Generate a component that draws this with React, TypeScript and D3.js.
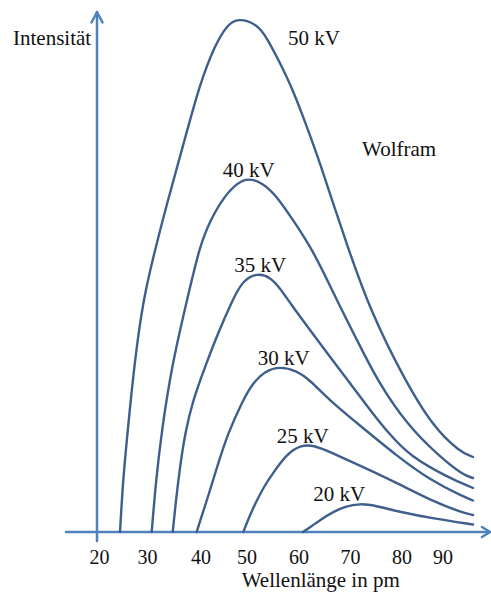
import React from "react";
import * as d3 from "d3";

const WIDTH = 491;
const HEIGHT = 595;

// Wavelength ticks along the horizontal axis (pm)
const wavelengthTicks = [20, 30, 40, 50, 60, 70, 80, 90];

// Continuous X-ray spectra of a tungsten anode: [wavelength in pm, relative intensity]
const spectrum50kV: [number, number][] = [
  [24.79, 0], [25.42, 10.4], [26.35, 19.8], [27.71, 33], [29.58, 46.4], [31.87, 56.4],
  [33.93, 65], [37.1, 77.2], [40.33, 89.8], [43.59, 97.4], [46.2, 101.4], [48.59, 102.8],
  [52.4, 101.6], [54.33, 98.8], [56.83, 93.8], [59.33, 88.4], [62.04, 81], [64.56, 73.8],
  [67.09, 65.8], [69.81, 57.4], [74.27, 44.4], [80.85, 31], [88.17, 21], [94.76, 16],
  [97.93, 15],
];
const spectrum40kV: [number, number][] = [
  [31.25, 0], [32.06, 10.4], [33.08, 19.8], [34.95, 33], [37.85, 46.4], [40.33, 57.4],
  [42.5, 62.2], [45.33, 66.8], [48.37, 69.8], [50.73, 70.8], [53.56, 69.8], [56.25, 67.1],
  [59.33, 62.4], [63.2, 56.4], [67.81, 46.4], [71.94, 38], [75.63, 30.4], [81.83, 21.4],
  [89.88, 15], [95.49, 11.4], [97.93, 10.8],
];
const spectrum35kV: [number, number][] = [
  [35.18, 0], [35.79, 6.4], [36.54, 13], [37.48, 19.8], [38.97, 26.4], [41.41, 33],
  [44.24, 39.8], [47.5, 46.6], [49.67, 50.4], [52.6, 51.8], [54.9, 51], [56.83, 48.8],
  [58.75, 45.8], [62.62, 40.4], [66.5, 35], [70.39, 29.8], [74.27, 24.4], [78.16, 19.4],
  [82.56, 15.2], [91.59, 11], [97.93, 8.8],
];
const spectrum30kV: [number, number][] = [
  [39.66, 0], [40.76, 3.4], [41.85, 6.4], [44.02, 13], [46.41, 19.8], [49.67, 26.4],
  [51.63, 29.8], [53.94, 32.2], [56.83, 33.1], [59.9, 32.3], [62.62, 30.4], [66.31, 26.4],
  [72.91, 20.8], [79.51, 15.2], [87.44, 10.4], [95.49, 7.1], [97.93, 6.3],
];
const spectrum25kV: [number, number][] = [
  [49.74, 0], [51.06, 3.4], [52.4, 6.4], [53.94, 9.4], [55.48, 11.8], [58.17, 15.6],
  [60.68, 17.4], [63.59, 17.3], [66.5, 16], [72.91, 13], [79.51, 9.8], [87.44, 6.4],
  [95.49, 3.8], [97.93, 3.4],
];
const spectrum20kV: [number, number][] = [
  [61.26, 0], [63.01, 1.2], [64.56, 2.4], [67.09, 4], [69.42, 5.1], [72.33, 5.7],
  [75.24, 5.3], [80.12, 4], [88.17, 2.7], [97.93, 1.5],
];

const tubeVoltages = ["50 kV", "40 kV", "35 kV", "30 kV", "25 kV", "20 kV"];
const spectra = [spectrum50kV, spectrum40kV, spectrum35kV, spectrum30kV, spectrum25kV, spectrum20kV];
// Where each voltage label sits, in [wavelength, intensity]
const labelAnchors: [number, number][] = [
  [58.37, 97.4], [45.26, 71.06], [47.78, 52.06], [52.54, 33.4], [56.19, 17.86], [63.26, 6.26],
];

const CURVE_COLOR = "#3E5F8C";
const AXIS_COLOR = "#4F81BD";
const FONT = "'Liberation Serif', 'Times New Roman', serif";

export default function App() {
  const x = d3
    .scaleLinear()
    .domain(wavelengthTicks)
    .range([97, 145, 198.5, 244.5, 296.5, 348, 399.5, 440.5]);
  const y = d3.scaleLinear().domain([0, 100]).range([532, 32]);

  const line = d3
    .line<[number, number]>()
    .x((d) => x(d[0]))
    .y((d) => y(d[1]))
    .curve(d3.curveBasis);

  const x0 = x(20);
  const y0 = y(0);
  const xAxisStart = x0 - 31;
  const xAxisEnd = 490;
  const yAxisTop = 12;
  const yAxisBottom = y0 + 9;

  return (
    <svg
      width={WIDTH}
      height={HEIGHT}
      viewBox={`0 0 ${WIDTH} ${HEIGHT}`}
      style={{ position: "absolute", left: 0, top: 0, background: "#fff" }}
    >
      {/* axes with open arrowheads */}
      <g stroke={AXIS_COLOR} strokeWidth={2.5} fill="none" strokeLinecap="round" strokeLinejoin="round">
        <line x1={xAxisStart} y1={y0} x2={xAxisEnd} y2={y0} />
        <polyline points={`${xAxisEnd - 8},${y0 - 5} ${xAxisEnd},${y0} ${xAxisEnd - 8},${y0 + 5}`} />
        <line x1={x0} y1={yAxisBottom} x2={x0} y2={yAxisTop} />
        <polyline points={`${x0 - 5.5},${yAxisTop + 10.5} ${x0},${yAxisTop} ${x0 + 5.5},${yAxisTop + 10.5}`} />
      </g>

      {/* spectra */}
      <g fill="none" stroke={CURVE_COLOR} strokeWidth={2.4} strokeLinecap="round">
        {spectra.map((s, i) => (
          <path key={tubeVoltages[i]} d={line(s) ?? ""} />
        ))}
      </g>

      {/* tick labels */}
      <g fontFamily={FONT} fontSize={20} fill="#111" textAnchor="middle">
        {wavelengthTicks.map((t) => (
          <text key={t} x={x(t) + 2.5} y={563.5}>
            {t}
          </text>
        ))}
      </g>

      {/* voltage labels */}
      <g fontFamily={FONT} fontSize={21} fill="#111">
        {tubeVoltages.map((v, i) => (
          <text key={v} x={x(labelAnchors[i][0])} y={y(labelAnchors[i][1])}>
            {v}
          </text>
        ))}
      </g>

      <g fontFamily={FONT} fontSize={21} fill="#111">
        <text x={13} y={45}>Intensität</text>
        <text x={362} y={156}>Wolfram</text>
        <text x={x(20) + 144.7} y={587}>Wellenlänge in pm</text>
      </g>
    </svg>
  );
}
